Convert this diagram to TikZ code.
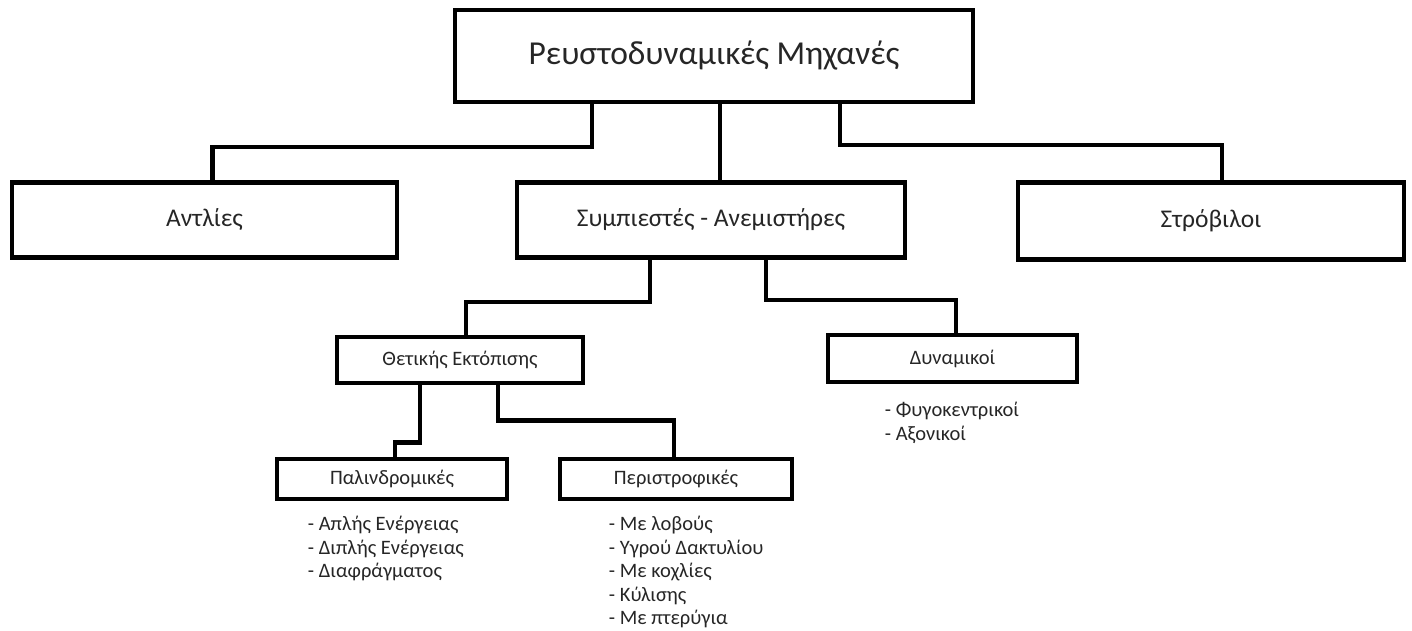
\documentclass[tikz,border=0pt]{standalone}
\usepackage{fontspec}
\setmainfont{Carlito}
\usetikzlibrary{positioning}

\begin{document}
\begin{tikzpicture}[x=1pt, y=-1pt,
    bigbox/.style={draw, line width=4.5pt, inner sep=0pt, text=black!85, font=\fontsize{25.5}{29}\selectfont},
    smallbox/.style={draw, line width=4.5pt, inner sep=0pt, text=black!85, font=\fontsize{20.5}{24}\selectfont},
    itemlist/.style={inner sep=0pt, align=left, text=black!85, font=\fontsize{20.5}{23.5}\selectfont},
    conn/.style={line width=4.5pt}]
  \useasboundingbox (0,0) rectangle (1412,631);
  % Define nodes
  \node[bigbox, minimum width=518pt, minimum height=92pt, font=\fontsize{33.5}{38}\selectfont]
                                        (top)  at (714,56)    {Ρευστοδυναμικές Μηχανές};
  \node[bigbox, minimum width=385pt, minimum height=75pt] (antlies) at (204.5,220) {Αντλίες};
  \node[bigbox, minimum width=388pt, minimum height=75pt] (sympiestes) at (711,220) {Συμπιεστές - Ανεμιστήρες};
  \node[bigbox, minimum width=386pt, minimum height=77pt] (stroviloi) at (1211,221) {Στρόβιλοι};
  \node[smallbox, minimum width=246pt, minimum height=46pt] (thetikis) at (460,360) {Θετικής Εκτόπισης};
  \node[smallbox, minimum width=249pt, minimum height=47pt] (dynamikoi) at (952.5,358.5) {Δυναμικοί};
  \node[smallbox, minimum width=230pt, minimum height=40pt] (palindromikes) at (392,479) {Παλινδρομικές};
  \node[smallbox, minimum width=232pt, minimum height=40pt] (peristrofikes) at (676,479) {Περιστροφικές};

  % Lists under the boxes
  \node[itemlist, below right=15pt and 33pt of palindromikes.south west] (pallist)
      {- Απλής Ενέργειας\\- Διπλής Ενέργειας\\- Διαφράγματος};
  \node[itemlist, below right=15pt and 51pt of peristrofikes.south west] (perlist)
      {- Με λοβούς\\- Υγρού Δακτυλίου\\- Με κοχλίες\\- Κύλισης\\- Με πτερύγια};
  \node[itemlist, below right=18pt and 59pt of dynamikoi.south west] (dynlist)
      {- Φυγοκεντρικοί\\- Αξονικοί};

  % Connect the nodes
  \draw[conn] ([xshift=-122pt]top.south) -- ++(0,43) -| ([xshift=8pt]antlies.north);
  \draw[conn] ([xshift=9pt]sympiestes.north) -- ([xshift=9pt]sympiestes.north |- top.south);
  \draw[conn] ([xshift=126pt]top.south) -- ++(0,41) -| ([xshift=11pt]stroviloi.north);
  \draw[conn] ([xshift=-61pt]sympiestes.south) -- ++(0,42) -| ([xshift=6pt]thetikis.north);
  \draw[conn] ([xshift=55pt]sympiestes.south) -- ++(0,40) -| ([xshift=3.5pt]dynamikoi.north);
  \draw[conn] ([xshift=-40pt]thetikis.south) -- ++(0,57) -| ([xshift=3pt]palindromikes.north);
  \draw[conn] ([xshift=38pt]thetikis.south) -- ++(0,35) -| ([xshift=-2pt]peristrofikes.north);
\end{tikzpicture}
\end{document}
